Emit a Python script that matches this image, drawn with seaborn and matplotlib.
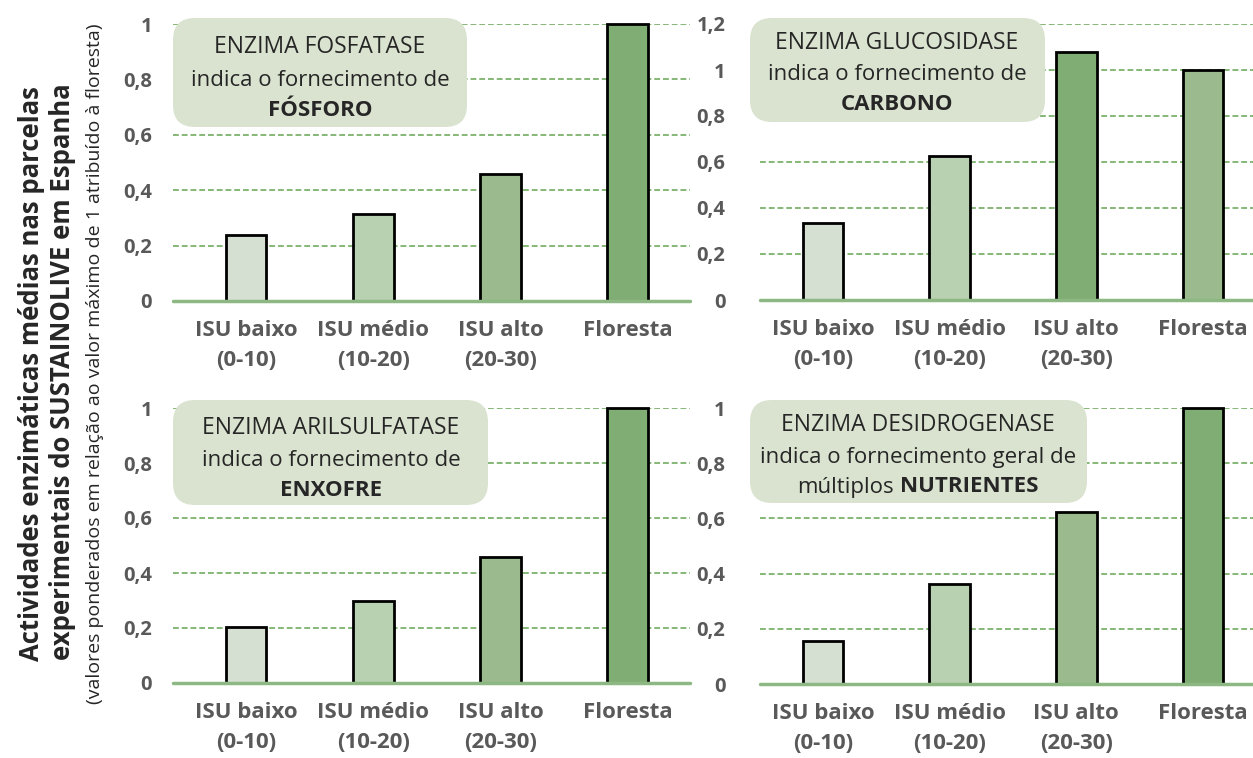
import matplotlib.pyplot as plt
import seaborn as sns
import pandas as pd
from matplotlib.patches import FancyBboxPatch
from matplotlib.transforms import IdentityTransform

# dados
categorias = ["ISU baixo\n(0-10)", "ISU médio\n(10-20)", "ISU alto\n(20-30)", "Floresta"]
fosfatase = [0.238, 0.314, 0.457, 1.0]
glucosidase = [0.336, 0.626, 1.077, 1.0]
arilsulfatase = [0.204, 0.297, 0.457, 1.0]
desidrogenase = [0.157, 0.363, 0.622, 1.0]

ticks_1 = [0, 0.2, 0.4, 0.6, 0.8, 1.0]
ticks_12 = [0, 0.2, 0.4, 0.6, 0.8, 1.0, 1.2]

verde1, verde2, verde3, verde4 = "#d5e0d2", "#b8d1b0", "#9bbb8e", "#80ad74"

sns.set_style("white")
plt.rcParams["font.family"] = ["Open Sans", "DejaVu Sans"]

W, H = 1253, 758
fig = plt.figure(figsize=(W / 100, H / 100), dpi=100)
txt_cinza = "#595959"
txt_escuro = "#262626"


def eixo(x0, y0, x1, y1):
    return fig.add_axes([x0 / W, 1 - y1 / H, (x1 - x0) / W, (y1 - y0) / H])


def fmt(v):
    return ("%g" % v).replace(".", ",")


def painel(ax, valores, cores, ticks, xlim, ypad):
    df = pd.DataFrame({"cat": categorias, "val": valores})
    sns.barplot(data=df, x="cat", y="val", hue="cat", palette=cores, legend=False,
                width=0.32, saturation=1, edgecolor="black", linewidth=2, ax=ax, zorder=3)
    for p in ax.patches:
        p.set_clip_on(False)
    ax.set_ylim(0, ticks[-1])
    ax.set_xlim(*xlim)
    ax.set_yticks(ticks)
    ax.set_yticklabels([fmt(t) for t in ticks])
    ax.yaxis.grid(True, linestyle=(0, (3, 1.5)), color="#86b877", linewidth=1.4)
    ax.set_axisbelow(True)
    ax.axhline(0, color="#8db883", lw=2.5, zorder=4, clip_on=False)
    for s in ax.spines.values():
        s.set_visible(False)
    ax.set_xlabel("")
    ax.set_ylabel("")
    ax.tick_params(axis="y", length=0, pad=ypad, labelsize=14.5, labelcolor=txt_cinza)
    ax.tick_params(axis="x", length=0, pad=14, labelsize=16, labelcolor=txt_cinza)
    for lbl in ax.get_yticklabels() + ax.get_xticklabels():
        lbl.set_fontweight("bold")
    for lbl in ax.get_xticklabels():
        lbl.set_linespacing(1.55)
        lbl.set_verticalalignment("top")


ax1 = eixo(173, 24, 690, 301)
painel(ax1, fosfatase, [verde1, verde2, verde3, verde4], ticks_1, (-0.575, 3.49), 15)
ax2 = eixo(760, 24, 1253, 300)
painel(ax2, glucosidase, [verde1, verde2, verde4, verde3], ticks_12, (-0.496, 3.394), 25)
ax3 = eixo(173, 408, 690, 683)
painel(ax3, arilsulfatase, [verde1, verde2, verde3, verde4], ticks_1, (-0.575, 3.49), 15)
ax4 = eixo(760, 408, 1253, 684)
painel(ax4, desidrogenase, [verde1, verde2, verde3, verde4], ticks_1, (-0.496, 3.394), 25)


def caixa(x0, y0, x1, y1):
    p = FancyBboxPatch((x0, H - y1), x1 - x0, y1 - y0,
                       boxstyle="round,pad=0,rounding_size=22",
                       transform=IdentityTransform(), facecolor="#d9e3cf",
                       edgecolor="none", zorder=5)
    fig.add_artist(p)


def linha(x, y, s, bold=False, size=16):
    fig.text(x / W, 1 - y / H, s, ha="center", va="center", fontsize=size,
             color=txt_escuro, fontweight="bold" if bold else "normal", zorder=6)


caixa(173, 18, 467, 127)
linha(320, 47, "ENZIMA FOSFATASE", size=16.5)
linha(320, 80, "indica o fornecimento de")
linha(320, 110, "FÓSFORO", bold=True)

caixa(750, 18, 1045, 122)
linha(897, 43, "ENZIMA GLUCOSIDASE", size=16.5)
linha(897, 74, "indica o fornecimento de")
linha(897, 104, "CARBONO", bold=True)

caixa(173, 400, 488, 505)
linha(331, 428, "ENZIMA ARILSULFATASE", size=16.5)
linha(331, 460, "indica o fornecimento de")
linha(331, 491, "ENXOFRE", bold=True)

caixa(750, 400, 1087, 503)
linha(918, 425, "ENZIMA DESIDROGENASE", size=16.5)
linha(918, 457, "indica o fornecimento geral de")
# linha mista: regular + negrito
r = fig.canvas.get_renderer()
t1 = fig.text(0, 1 - 487 / H, "múltiplos", ha="left", va="center", fontsize=16,
              color=txt_escuro, zorder=6)
t2 = fig.text(0, 1 - 487 / H, "NUTRIENTES", ha="left", va="center", fontsize=16,
              color=txt_escuro, fontweight="bold", zorder=6)
w1 = t1.get_window_extent(r).width
w2 = t2.get_window_extent(r).width
gap = 6
xs = 918 - (w1 + gap + w2) / 2
t1.set_x(xs / W)
t2.set_x((xs + w1 + gap) / W)

# título do eixo y
fig.text(32 / W, 1 - 374 / H, "Actividades enzimáticas médias nas parcelas",
         rotation=90, ha="center", va="center", fontsize=18.5, fontweight="bold",
         color=txt_escuro)
fig.text(63 / W, 1 - 372 / H, "experimentais do SUSTAINOLIVE em Espanha",
         rotation=90, ha="center", va="center", fontsize=18.5, fontweight="bold",
         color=txt_escuro)
fig.text(95 / W, 1 - 364 / H,
         "(valores ponderados em relação ao valor máximo de 1 atribuído à floresta)",
         rotation=90, ha="center", va="center", fontsize=14, color=txt_escuro)

fig.savefig("out.png", dpi=100)
